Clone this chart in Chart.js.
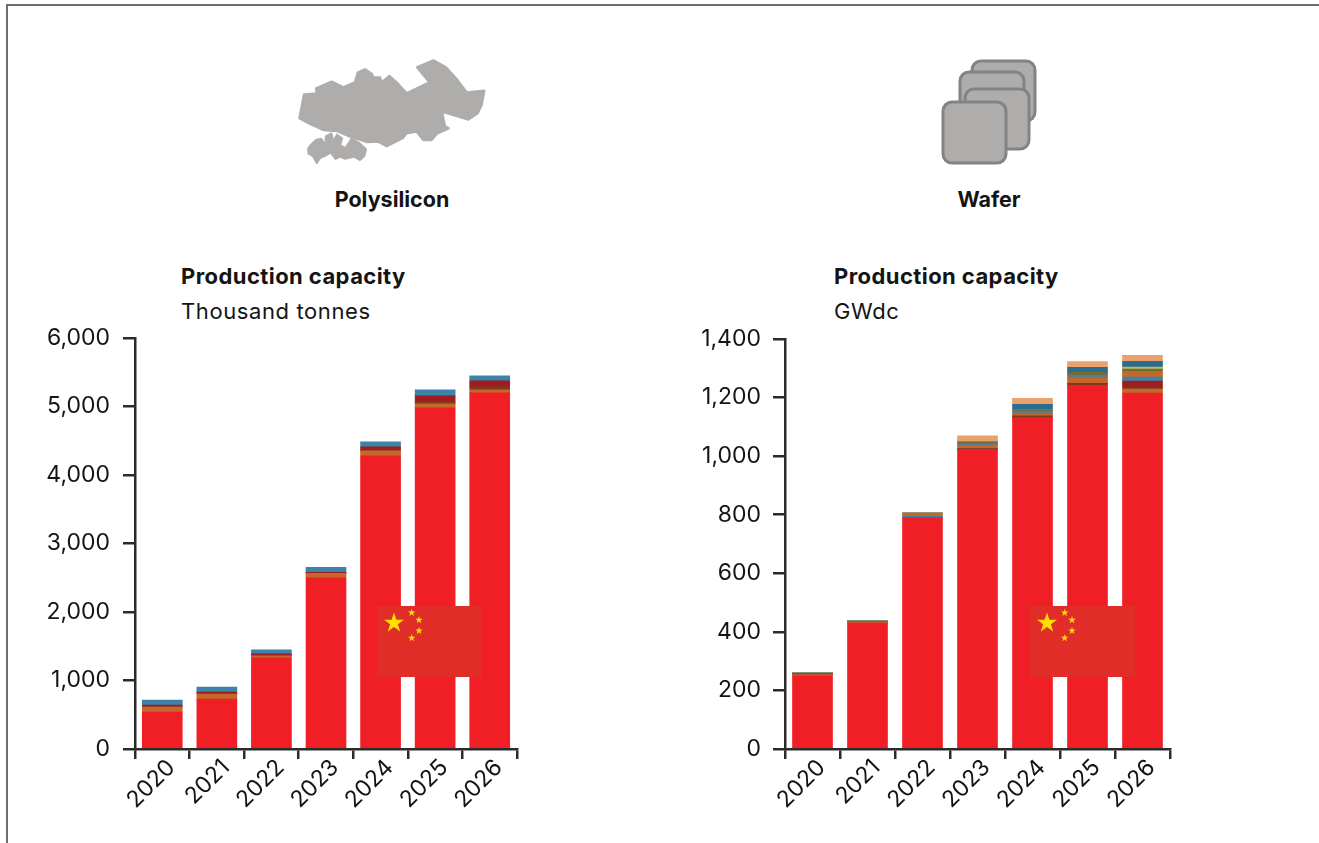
<!DOCTYPE html>
<html>
<head>
<meta charset="utf-8">
<title>Production capacity</title>
<script src="https://cdn.jsdelivr.net/npm/chart.js@4"></script>
<style>
    html, body { margin: 0; padding: 0; background: #fff; }
    body { width: 1319px; height: 843px; position: relative; overflow: hidden; font-family: Inter, sans-serif; color: #141414; }
    #frameTop { position: absolute; left: 6px; top: 4px; right: 0; height: 2px; background: #6d6d78; }
    #frameLeft { position: absolute; left: 6px; top: 4px; bottom: 0; width: 2px; background: #6d6d78; }
    .label { position: absolute; font-size: 22px; line-height: 26px; white-space: nowrap; }
    .heading { font-weight: 700; font-size: 21.5px; top: 186px; transform: translateX(-50%); }
    .title { font-weight: 700; letter-spacing: 0.43px; top: 263px; }
    .unit { letter-spacing: 0.6px; top: 298px; }
    canvas { position: absolute; top: 320px; }
    svg.art { position: absolute; left: 0; top: 0; }
</style>
</head>
<body>
<div id="frameTop"></div>
<div id="frameLeft"></div>

<div class="label heading" style="left:392px">Polysilicon</div>
<div class="label heading" style="left:989px">Wafer</div>
<div class="label title" style="left:181px">Production capacity</div>
<div class="label unit" style="left:181px">Thousand tonnes</div>
<div class="label title" style="left:834px">Production capacity</div>
<div class="label unit" style="left:834px">GWdc</div>

<canvas id="polyChart" width="510" height="520" style="left:30px"></canvas>
<canvas id="waferChart" width="510" height="520" style="left:680px"></canvas>

<svg class="art" width="1319" height="843" viewBox="0 0 1319 843">
    <!-- polysilicon chunk -->
    <g transform="translate(290,50) scale(0.3333)" fill="#aeadab" stroke="#aeadab" stroke-width="7" stroke-linejoin="round">
        <path d="M42 133 L80 130 L78 115 L125 95 L160 112 L195 97 L203 68 L225 58 L246 72 L250 82 L270 82 L275 97 L298 78 L320 97 L350 130 L418 97 L381 52 L430 31 L468 52 L498 85 L530 127 L583 122 L575 165 L563 190 L535 209 L456 185 L465 228 L476 235 L442 250 L425 270 L400 270 L380 245 L350 250 L338 265 L290 289 L265 275 L230 276 L180 260 L140 243 L100 240 L60 222 L28 205 L36 165 Z"/>
        <path d="M62 282 L78 268 L95 265 L105 280 L106 258 L125 248 L130 265 L123 288 L140 252 L158 264 L152 285 L166 292 L184 264 L208 277 L230 297 L224 320 L210 332 L192 322 L165 328 L150 322 L136 329 L122 310 L108 318 L92 325 L80 342 L68 320 L54 312 L53 295 Z" stroke-width="3"/>
    </g>
    <!-- wafer stack -->
    <g fill="#aeadab" stroke="#838383" stroke-width="3">
        <rect x="972" y="61" width="63" height="60" rx="9"/>
        <rect x="960" y="72" width="64" height="60" rx="9"/>
        <rect x="965" y="89" width="64" height="60" rx="9"/>
        <rect x="943" y="102" width="63" height="61" rx="9"/>
    </g>
    <!-- flags -->
    <defs>
        <polygon id="star" fill="#ffde00" points="0,-3.9 0.9,-1.2 3.7,-1.2 1.5,0.5 2.3,3.2 0,1.5 -2.3,3.2 -1.5,0.5 -3.7,-1.2 -0.9,-1.2"/>
        <g id="flag">
            <rect x="0" y="0" width="105" height="71" fill="#e02d27"/>
            <polygon fill="#ffde00" points="17,6.5 19.4,13.7 27,13.7 20.9,18.2 23.2,25.5 17,21 10.8,25.5 13.1,18.2 7,13.7 14.6,13.7"/>
            <use href="#star" x="34.7" y="6.7"/>
            <use href="#star" x="42" y="14"/>
            <use href="#star" x="42" y="24.7"/>
            <use href="#star" x="34.7" y="32"/>
        </g>
    </defs>
    <use href="#flag" x="377" y="606"/>
    <use href="#flag" x="1030" y="606"/>
</svg>

<script>
const years = ['2020', '2021', '2022', '2023', '2024', '2025', '2026'];

// Polysilicon capacity, thousand tonnes
const polyChina = [540, 730, 1330, 2500, 4280, 4980, 5200];
const polyOrange = [73, 73, 29, 64, 73, 58, 44];
const polyBrown = [0, 0, 0, 0, 0, 29, 44];
const polyDarkRed = [29, 29, 29, 15, 58, 88, 88];
const polySteel = [73, 73, 58, 73, 73, 88, 73];
const polyTicks = [0, 1000, 2000, 3000, 4000, 5000, 6000];

// Wafer capacity, GWdc
const waferChina = [251, 430, 790, 1023, 1130, 1240, 1215];
const waferOrange = [3, 4, 0, 0, 0, 0, 14];
const waferBrown = [0, 0, 0, 2, 7, 9, 7];
const waferDarkRed = [3, 0, 0, 0, 0, 0, 20];
const waferSteel = [2, 3, 5, 0, 0, 0, 14];
const waferOrange2 = [0, 0, 11, 12, 7, 18, 20];
const waferGrey = [0, 0, 0, 6, 10, 9, 0];
const waferOlive = [0, 0, 0, 6, 3, 10, 7];
const waferYellow = [0, 0, 0, 0, 0, 0, 7];
const waferTeal = [0, 0, 0, 0, 20, 17, 20];
const waferPeach = [0, 0, 0, 20, 20, 20, 20];
const waferTicks = [0, 200, 400, 600, 800, 1000, 1200, 1400];

const RED = '#f01f26';
const ORANGE = '#c4682a';
const BROWN = '#7e3a1c';
const DARK_RED = '#a01c20';
const STEEL = '#3b83a8';
const GREY = '#60788a';
const OLIVE = '#6c6f3c';
const YELLOW = '#b9bd62';
const TEAL = '#2c6d8e';
const PEACH = '#eba06d';

const AXIS_COLOR = '#2b2b2b';
const FONT = { family: 'Inter, sans-serif', size: 23 };

function makeChart(canvasId, series, tickValues, maxValue, topPad, rightPad, labelPad) {
    const datasets = series.map(([values, color]) => ({
        data: values,
        backgroundColor: color,
        borderWidth: 0,
        barThickness: 40,
        stack: 'capacity',
    }));

    return new Chart(document.getElementById(canvasId), {
        type: 'bar',
        data: { labels: years, datasets: datasets },
        options: {
            responsive: false,
            animation: false,
            layout: { padding: { top: topPad, right: rightPad, left: 0, bottom: 0 } },
            plugins: { legend: { display: false }, tooltip: { enabled: false } },
            scales: {
                x: {
                    stacked: true,
                    afterFit: (scale) => {
                        scale.height = 91;
                        scale.paddingLeft = 0;
                        scale.paddingRight = 0;
                    },
                    border: { color: AXIS_COLOR, width: 2.5 },
                    grid: { drawOnChartArea: false, color: AXIS_COLOR, tickColor: AXIS_COLOR, tickLength: 10, lineWidth: 2.5 },
                    ticks: { color: '#141414', font: FONT, minRotation: 45, maxRotation: 45, padding: -5, labelOffset: 9 },
                },
                y: {
                    stacked: true,
                    min: 0,
                    max: maxValue,
                    afterFit: (scale) => {
                        scale.width = 105;
                        scale.paddingTop = 0;
                        scale.paddingBottom = 0;
                    },
                    afterBuildTicks: (scale) => { scale.ticks = tickValues.map((v) => ({ value: v })); },
                    border: { color: AXIS_COLOR, width: 2.5 },
                    grid: { drawOnChartArea: false, color: AXIS_COLOR, tickColor: AXIS_COLOR, tickLength: 12, lineWidth: 2.5 },
                    ticks: { color: '#141414', font: FONT, padding: labelPad, callback: (v) => v.toLocaleString('en-US') },
                },
            },
        },
    });
}

makeChart('polyChart', [
    [polyChina, RED],
    [polyOrange, ORANGE],
    [polyBrown, BROWN],
    [polyDarkRed, DARK_RED],
    [polySteel, STEEL],
], polyTicks, 6000, 18, 23, 13);

makeChart('waferChart', [
    [waferChina, RED],
    [waferOrange, ORANGE],
    [waferBrown, BROWN],
    [waferDarkRed, DARK_RED],
    [waferSteel, STEEL],
    [waferOrange2, ORANGE],
    [waferGrey, GREY],
    [waferOlive, OLIVE],
    [waferYellow, YELLOW],
    [waferTeal, TEAL],
    [waferPeach, PEACH],
], waferTicks, 1400, 19, 20, 12);
</script>
</body>
</html>
